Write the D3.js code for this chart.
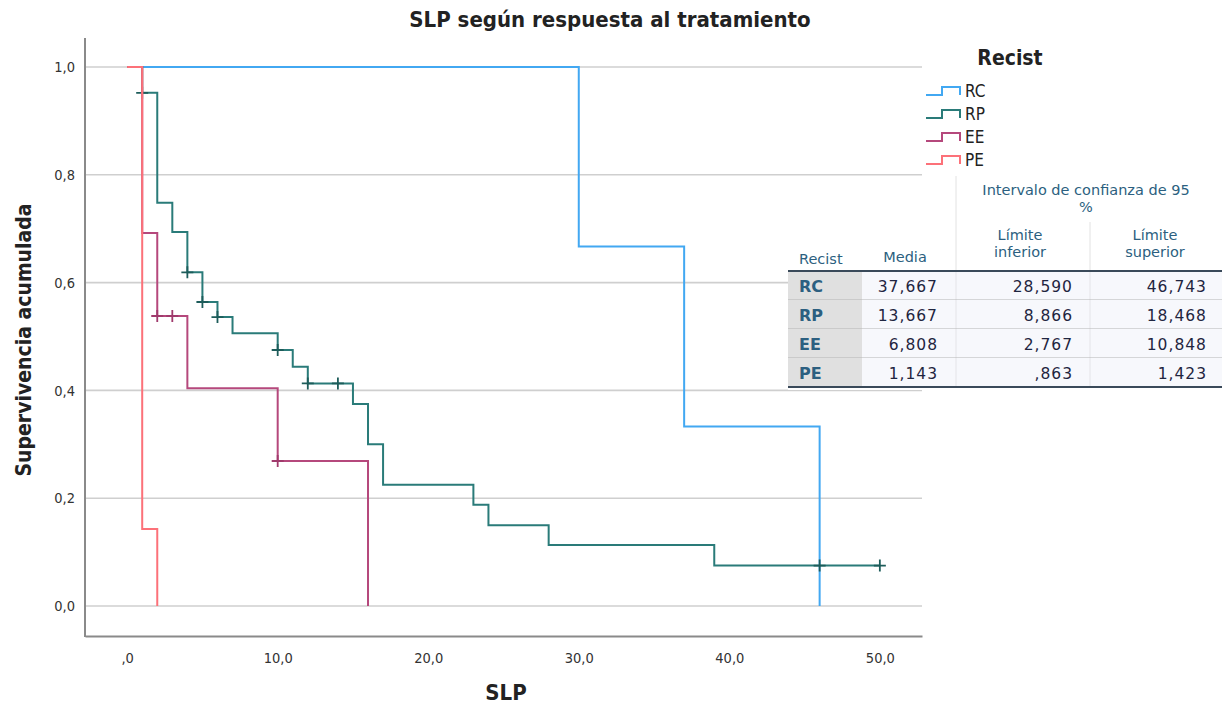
<!DOCTYPE html>
<html><head><meta charset="utf-8">
<script src="https://cdn.jsdelivr.net/npm/d3@7"></script>
<style>body{margin:0;background:#fff;} svg{display:block;font-family:"DejaVu Sans",sans-serif;}</style>
</head><body><svg id="c" width="1225" height="707"></svg>
<script>
// ---- data ----
const groups = ["RC", "RP", "EE", "PE"];
const colors = ["#42a8f2", "#2a7b79", "#b5487c", "#fc7179"];
// step times (event times) and survival after each step, starting at t=0, S=1
const rcTimes = [0, 30, 37, 46];
const rcSurv  = [1, 0.667, 0.333, 0];
const rcCens  = [];
const rpTimes = [0, 1, 2, 3, 4, 5, 6, 7, 10, 11, 12, 15, 16, 17, 23, 24, 28, 39];
const rpSurv  = [1, 0.952, 0.748, 0.694, 0.619, 0.564, 0.536, 0.506, 0.475, 0.444, 0.413, 0.375, 0.300, 0.225, 0.188, 0.150, 0.113, 0.075];
const rpCens  = [1, 4, 5, 6, 10, 12, 14, 46, 50];
const eeTimes = [0, 1, 2, 4, 10, 16];
const eeSurv  = [1, 0.692, 0.538, 0.404, 0.269, 0];
const eeCens  = [2, 3, 10];
const peTimes = [0, 1, 2];
const peSurv  = [1, 0.143, 0];
const peCens  = [];
const xTicks = [0, 10, 20, 30, 40, 50];
const yTicks = [0, 0.2, 0.4, 0.6, 0.8, 1.0];
// summary table
const tableRows = ["RC", "RP", "EE", "PE"];
const media = ["37,667", "13,667", "6,808", "1,143"];
const limInf = ["28,590", "8,866", "2,767", ",863"];
const limSup = ["46,743", "18,468", "10,848", "1,423"];

const series = [
  {t: rcTimes, s: rcSurv, c: rcCens},
  {t: rpTimes, s: rpSurv, c: rpCens},
  {t: eeTimes, s: eeSurv, c: eeCens},
  {t: peTimes, s: peSurv, c: peCens}
];

const svg = d3.select("#c");
const x = d3.scaleLinear().domain([-2.8, 52.8]).range([85, 922]);
const y = d3.scaleLinear().domain([0, 1]).range([606, 67]);
const fmt = v => v === 0 ? ",0" : d3.format(".1f")(v).replace(".", ",");
const cond = "DejaVu Sans Condensed, DejaVu Sans";

// gridlines
svg.append("g").selectAll("line").data(yTicks).join("line")
  .attr("x1", 85).attr("x2", 922).attr("y1", d => y(d)).attr("y2", d => y(d))
  .attr("stroke", "#cfcfcf").attr("stroke-width", 1.6);

// axes
const gx = svg.append("g").attr("transform", "translate(0,636)")
  .call(d3.axisBottom(x).tickValues(xTicks).tickSize(0).tickPadding(17).tickFormat(fmt));
gx.select(".domain").attr("stroke", "#8a8a8a").attr("stroke-width", 2);
gx.selectAll("text").attr("font-size", 14.5).attr("fill", "#333").attr("font-family", cond);
const gy = svg.append("g").attr("transform", "translate(85,0)")
  .call(d3.axisLeft(y).tickValues(yTicks).tickSize(0).tickPadding(10).tickFormat(d => d3.format(".1f")(d).replace(".", ",")));
gy.select(".domain").remove();
gy.selectAll("text").attr("font-size", 14.5).attr("fill", "#333").attr("font-family", cond);
svg.append("line").attr("x1", 85).attr("x2", 85).attr("y1", 38).attr("y2", 637)
  .attr("stroke", "#8a8a8a").attr("stroke-width", 2);

// curves
const line = d3.line().x(d => x(d[0])).y(d => y(d[1]));
series.forEach((sr, i) => {
  const pts = [];
  for (let k = 0; k < sr.t.length; k++) {
    if (k > 0) pts.push([sr.t[k], sr.s[k - 1]]);
    pts.push([sr.t[k], sr.s[k]]);
  }
  const last = sr.t[sr.t.length - 1];
  const maxC = sr.c.length ? d3.max(sr.c) : last;
  if (maxC > last) pts.push([maxC, sr.s[sr.s.length - 1]]);
  svg.append("path").attr("d", line(pts)).attr("fill", "none")
    .attr("stroke", colors[i]).attr("stroke-width", 2);
  const survAt = t => { let v = 1; sr.t.forEach((tt, k) => { if (tt <= t) v = sr.s[k]; }); return v; };
  svg.append("g").selectAll("path").data(sr.c).join("path")
    .attr("d", d => `M${x(d) - 6},${y(survAt(d))}h12M${x(d)},${y(survAt(d)) - 6}v12`)
    .attr("stroke", i === 1 ? "#1d5c5a" : "#a03a6c").attr("stroke-width", 1.8);
});

// titles
svg.append("text").attr("x", 610).attr("y", 27).attr("text-anchor", "middle")
  .attr("font-size", 22).attr("font-weight", "bold").attr("fill", "#222")
  .attr("font-family", cond).text("SLP según respuesta al tratamiento");
svg.append("text").attr("x", 506).attr("y", 700).attr("text-anchor", "middle")
  .attr("font-size", 22).attr("font-weight", "bold").attr("fill", "#222")
  .attr("font-family", cond).text("SLP");
svg.append("text").attr("transform", "translate(31,340) rotate(-90)").attr("text-anchor", "middle")
  .attr("font-size", 21).attr("font-weight", "bold").attr("fill", "#222")
  .attr("font-family", cond).text("Supervivencia acumulada");

// legend
svg.append("text").attr("x", 1010).attr("y", 65).attr("text-anchor", "middle")
  .attr("font-size", 21).attr("font-weight", "bold").attr("fill", "#222")
  .attr("font-family", cond).text("Recist");
const lg = svg.append("g").selectAll("g").data(groups).join("g")
  .attr("transform", (d, i) => `translate(926,${91 + i * 23})`);
lg.append("path").attr("d", "M0,4H16V-4H34V4").attr("fill", "none")
  .attr("stroke", (d, i) => colors[i]).attr("stroke-width", 2);
lg.append("text").attr("x", 39).attr("y", 6).attr("font-size", 17).attr("fill", "#222")
  .attr("font-family", cond).text(d => d);

// table
const tg = svg.append("g").attr("font-family", "DejaVu Sans");
tg.append("rect").attr("x", 788).attr("y", 176).attr("width", 437).attr("height", 214).attr("fill", "#fff");
const colX = [788, 862, 956, 1090, 1222];
const hdrC = "#2c5f80";
tg.append("line").attr("x1", 956).attr("x2", 956).attr("y1", 176).attr("y2", 271).attr("stroke", "#e2e2e2");
tg.append("line").attr("x1", 1090).attr("x2", 1090).attr("y1", 222).attr("y2", 271).attr("stroke", "#e2e2e2");
tg.append("text").attr("x", 1086).attr("y", 195).attr("text-anchor", "middle").attr("font-size", 14.5).attr("fill", hdrC).text("Intervalo de confianza de 95");
tg.append("text").attr("x", 1086).attr("y", 212).attr("text-anchor", "middle").attr("font-size", 14.5).attr("fill", hdrC).text("%");
tg.append("text").attr("x", 799).attr("y", 264).attr("font-size", 14.5).attr("fill", hdrC).text("Recist");
tg.append("text").attr("x", 905).attr("y", 262).attr("text-anchor", "middle").attr("font-size", 14.5).attr("fill", hdrC).text("Media");
[["Límite", "inferior", 1020], ["Límite", "superior", 1155]].forEach(h => {
  tg.append("text").attr("x", h[2]).attr("y", 240).attr("text-anchor", "middle").attr("font-size", 14.5).attr("fill", hdrC).text(h[0]);
  tg.append("text").attr("x", h[2]).attr("y", 257).attr("text-anchor", "middle").attr("font-size", 14.5).attr("fill", hdrC).text(h[1]);
});
const rowY = d3.scaleBand().domain(tableRows).range([271, 387]);
const rows = tg.selectAll("g.r").data(tableRows).join("g").attr("class", "r")
  .attr("transform", d => `translate(0,${rowY(d)})`);
rows.append("rect").attr("x", colX[0]).attr("width", colX[1] - colX[0]).attr("height", rowY.bandwidth()).attr("fill", "#e0e0e0");
rows.append("rect").attr("x", colX[1]).attr("width", colX[4] - colX[1]).attr("height", rowY.bandwidth()).attr("fill", "#f7f8fc");
[956, 1090].forEach(cx => rows.append("line").attr("x1", cx).attr("x2", cx).attr("y1", 0).attr("y2", rowY.bandwidth()).attr("stroke", "#e4e4e8"));
rows.append("line").attr("x1", colX[0]).attr("x2", colX[4]).attr("y1", rowY.bandwidth()).attr("y2", rowY.bandwidth()).attr("stroke", "#b4b4b4").attr("stroke-width", 1.2);
rows.append("text").attr("x", 799).attr("y", rowY.bandwidth() / 2 + 6).attr("font-size", 16).attr("font-weight", 600).attr("fill", hdrC).text(d => d);
const cols = [[media, 938], [limInf, 1073], [limSup, 1207]];
cols.forEach(c => rows.append("text").attr("x", c[1]).attr("y", rowY.bandwidth() / 2 + 6).attr("text-anchor", "end")
  .attr("font-size", 15.5).attr("fill", "#1f2540").attr("letter-spacing", 1).text((d, i) => c[0][i]));
tg.append("line").attr("x1", 788).attr("x2", 1222).attr("y1", 271).attr("y2", 271).attr("stroke", "#3a4a5a").attr("stroke-width", 2);
tg.append("line").attr("x1", 788).attr("x2", 1222).attr("y1", 387).attr("y2", 387).attr("stroke", "#3a4a5a").attr("stroke-width", 2);
</script></body></html>
